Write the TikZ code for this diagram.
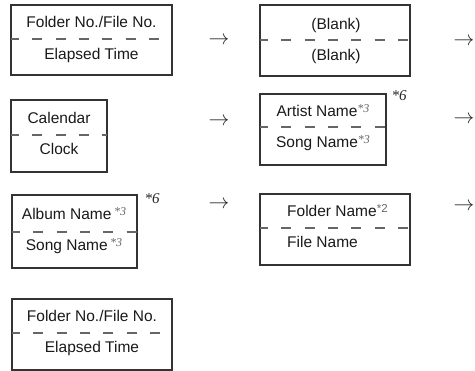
\documentclass[tikz,border=0pt]{standalone}
\usepackage{fontspec}
\setmainfont{Liberation Sans}
\newfontfamily\notefont{Liberation Serif}
% small grey footnote marks after a label
\newcommand\nref[1]{\textcolor{black!60}{\notefont\itshape\fontsize{12}{12}\selectfont\raisebox{0.4em}{*#1}}}
\newcommand\nrefup[1]{\textcolor{black!60}{\fontsize{11.5}{11.5}\selectfont\raisebox{0.4em}{*#1}}}
\begin{document}
\begin{tikzpicture}[x=1pt,y=-1pt,
  frame/.style={draw=black!80,line width=1.1pt},
  divider/.style={draw=black!60,line width=1.3pt,dash pattern=on 10pt off 13.3pt,dash phase=2pt},
  label/.style={anchor=base,inner sep=0pt,text=black!90,font=\fontsize{15.5}{18}\selectfont},
  nextarrow/.style={inner sep=0pt,text=black!85,font=\fontsize{21}{21}\selectfont},
  fnmark/.style={inner sep=0pt,text=black!85,font=\notefont\itshape\fontsize{15}{15}\selectfont}]
  \useasboundingbox (0,0) rectangle (475,371);
  % left column
  \draw[frame] (11,5) rectangle (172,75);
  \draw[divider] (11,39) -- (172,39);
  \node[label] (dirtop) at (91.5,28) {Folder No./File No.};
  \node[label] (timetop) at (91.5,60) {Elapsed Time};
  \draw[frame] (11,100) rectangle (107,172);
  \draw[divider] (11,135) -- (107,135);
  \node[label] (cal) at (59,124) {Calendar};
  \node[label] (clk) at (59,155) {Clock};
  \draw[frame] (12,195) rectangle (137,268);
  \draw[divider] (12,232) -- (137,232);
  \node[label] (album) at (74,220) {Album Name\hspace{2.5pt}\nref{3}};
  \node[label] (songB) at (74,251) {Song Name\hspace{2.5pt}\nref{3}};
  \node[fnmark] (sixB) at (152,199) {*6};
  \draw[frame] (12,299) rectangle (172,370);
  \draw[divider] (12,333) -- (172,333);
  \node[label] (dirbot) at (92,322) {Folder No./File No.};
  \node[label] (timebot) at (92,353) {Elapsed Time};
  % right column
  \draw[frame] (260,5) rectangle (410,76);
  \draw[divider] (260,40) -- (410,40);
  \node[label] (blankA) at (336,30) {(Blank)};
  \node[label] (blankB) at (336,61) {(Blank)};
  \draw[frame] (260,94) rectangle (386,165);
  \draw[divider] (260,127) -- (386,127);
  \node[label] (artist) at (323,117) {Artist Name\nref{3}};
  \node[label] (songA) at (323,148) {Song Name\nref{3}};
  \node[fnmark] (sixA) at (399,96) {*6};
  \draw[frame] (260,194) rectangle (410,265);
  \draw[divider] (260,228) -- (410,228);
  \node[label,anchor=base west] (folder) at (287,217) {Folder Name\nrefup{2}};
  \node[label,anchor=base west] (file) at (287,248) {File Name};
  % arrows to the next item
  \node[nextarrow] (arrA) at (219,41) {$\rightarrow$};
  \node[nextarrow] (arrB) at (219,122) {$\rightarrow$};
  \node[nextarrow] (arrC) at (219,205) {$\rightarrow$};
  \node[nextarrow] (arrD) at (464,42) {$\rightarrow$};
  \node[nextarrow] (arrE) at (464,120) {$\rightarrow$};
  \node[nextarrow] (arrF) at (464,207) {$\rightarrow$};
\end{tikzpicture}
\end{document}
